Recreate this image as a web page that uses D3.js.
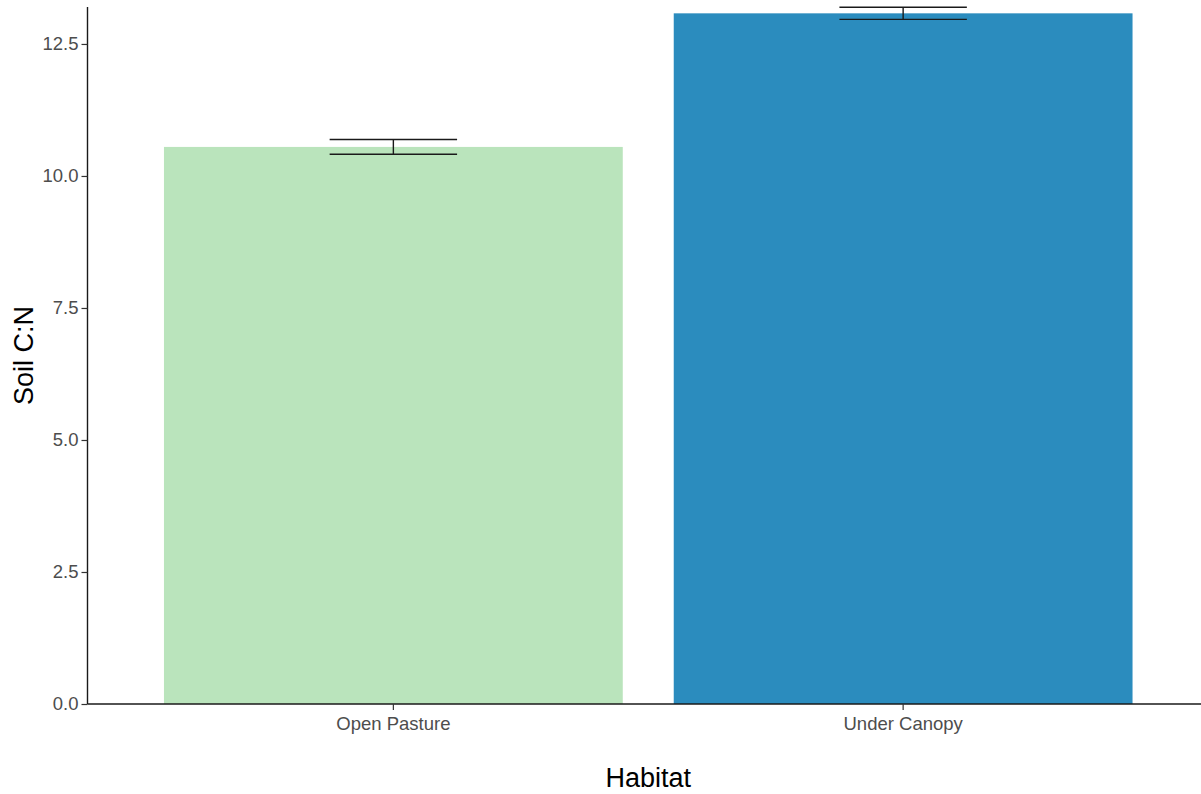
<!DOCTYPE html>
<html>
<head>
<meta charset="utf-8">
<script src="https://cdn.jsdelivr.net/npm/d3@7"></script>
<style>
  html, body { margin: 0; padding: 0; background: #fff; }
  svg { display: block; }
  text { font-family: "Liberation Sans", Arial, sans-serif; }
</style>
</head>
<body>
<svg id="chart" width="1201" height="794"></svg>
<script>
const categories = ["Open Pasture", "Under Canopy"];
const means = [10.55, 13.08];
const errors = [0.14, 0.115];
const colors = ["#BAE4BC", "#2B8CBE"];
const yTicks = [0, 2.5, 5, 7.5, 10, 12.5];
const yTickLabels = ["0.0", "2.5", "5.0", "7.5", "10.0", "12.5"];
const xTitle = "Habitat";
const yTitle = "Soil C:N";

const W = 1201, H = 794;
const mLeft = 87.5, mRight = 1209, mTop = 7, mBottom = 704;

const svg = d3.select("#chart");

const x = d3.scaleBand().domain(categories).range([mLeft, mRight])
  .paddingInner(0.1).paddingOuter(0.15);
const y = d3.scaleLinear().domain([0, 13.2]).range([mBottom, mTop]);

const data = categories.map((c, i) => ({ c, m: means[i], e: errors[i], col: colors[i] }));

// bars
svg.append("g").selectAll("rect").data(data).join("rect")
  .attr("x", d => x(d.c))
  .attr("width", x.bandwidth())
  .attr("y", d => y(d.m))
  .attr("height", d => y(0) - y(d.m))
  .attr("fill", d => d.col);

// error bars
const capW = x.step() * 0.25;
const eb = svg.append("g").attr("stroke", "#1a1a1a").attr("stroke-width", 1.4).attr("fill", "none");
data.forEach(d => {
  const cx = x(d.c) + x.bandwidth() / 2;
  eb.append("line").attr("x1", cx).attr("x2", cx).attr("y1", y(d.m + d.e)).attr("y2", y(d.m - d.e));
  eb.append("line").attr("x1", cx - capW / 2).attr("x2", cx + capW / 2).attr("y1", y(d.m + d.e)).attr("y2", y(d.m + d.e));
  eb.append("line").attr("x1", cx - capW / 2).attr("x2", cx + capW / 2).attr("y1", y(d.m - d.e)).attr("y2", y(d.m - d.e));
});

// y axis
const yAxis = d3.axisLeft(y).tickValues(yTicks)
  .tickFormat((d, i) => yTickLabels[i]).tickSize(6).tickPadding(3);
const gy = svg.append("g").attr("transform", `translate(${mLeft},0)`).call(yAxis);
gy.select(".domain").attr("stroke", "#1a1a1a").attr("stroke-width", 1.4).attr("d", `M0,${mTop}V${mBottom}`);
gy.selectAll(".tick line").attr("stroke", "#333").attr("stroke-width", 1.2);
gy.selectAll(".tick text").attr("fill", "#4D4D4D").style("font-size", "18.5px")
  .style("font-family", "'Liberation Sans', Arial, sans-serif");

// x axis
const xAxis = d3.axisBottom(x).tickSize(6).tickPadding(7);
const gx = svg.append("g").attr("transform", `translate(0,${mBottom})`).call(xAxis);
gx.select(".domain").attr("stroke", "#1a1a1a").attr("stroke-width", 1.4).attr("d", `M${mLeft},0H${W}`);
gx.selectAll(".tick line").attr("stroke", "#333").attr("stroke-width", 1.2);
gx.selectAll(".tick text").attr("fill", "#4D4D4D").style("font-size", "18.5px")
  .style("font-family", "'Liberation Sans', Arial, sans-serif");

// titles
svg.append("text").attr("x", (mLeft + mRight) / 2).attr("y", 787)
  .attr("text-anchor", "middle").style("font-size", "27px").attr("fill", "#000").text(xTitle);
svg.append("text").attr("transform", `translate(33,${(mTop + mBottom) / 2}) rotate(-90)`)
  .attr("text-anchor", "middle").style("font-size", "27px").attr("fill", "#000").text(yTitle);
</script>
</body>
</html>
